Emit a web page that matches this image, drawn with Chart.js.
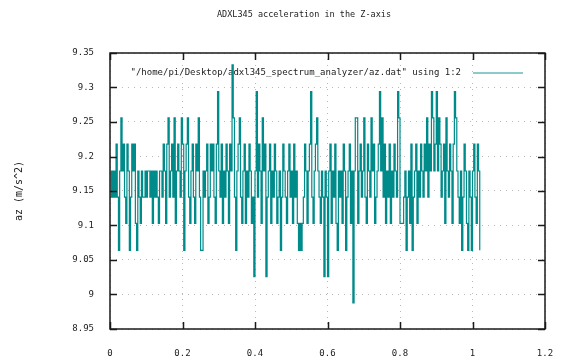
<!DOCTYPE html>
<html>
<head>
<meta charset="utf-8">
<script src="https://cdn.jsdelivr.net/npm/chart.js@4/dist/chart.umd.min.js"></script>
<style>
  html, body { margin: 0; padding: 0; background: #fff; }
  canvas { display: block; }
</style>
</head>
<body>
<canvas id="chart" width="562" height="357"></canvas>
<script>
// Z-axis acceleration samples from az.dat (m/s^2), one row of ten per line
const az = [
  9.141, 9.179, 9.141, 9.179, 9.141, 9.218, 9.141, 9.064, 9.179, 9.256,
  9.179, 9.218, 9.141, 9.103, 9.218, 9.179, 9.064, 9.141, 9.218, 9.179,
  9.218, 9.103, 9.064, 9.179, 9.141, 9.103, 9.179, 9.141, 9.141, 9.179,
  9.141, 9.179, 9.179, 9.141, 9.179, 9.103, 9.179, 9.141, 9.179, 9.141,
  9.103, 9.179, 9.179, 9.141, 9.218, 9.179, 9.103, 9.218, 9.256, 9.141,
  9.179, 9.218, 9.141, 9.256, 9.103, 9.179, 9.218, 9.179, 9.141, 9.256,
  9.218, 9.064, 9.179, 9.218, 9.256, 9.141, 9.103, 9.179, 9.218, 9.141,
  9.103, 9.218, 9.179, 9.256, 9.141, 9.064, 9.064, 9.179, 9.141, 9.179,
  9.218, 9.103, 9.141, 9.218, 9.179, 9.218, 9.141, 9.103, 9.218, 9.294,
  9.179, 9.141, 9.218, 9.103, 9.179, 9.141, 9.218, 9.179, 9.103, 9.218,
  9.179, 9.333, 9.256, 9.141, 9.064, 9.179, 9.218, 9.256, 9.141, 9.103,
  9.179, 9.218, 9.103, 9.179, 9.141, 9.218, 9.179, 9.103, 9.141, 9.026,
  9.179, 9.294, 9.141, 9.218, 9.179, 9.103, 9.256, 9.179, 9.218, 9.026,
  9.141, 9.179, 9.218, 9.103, 9.179, 9.141, 9.218, 9.179, 9.103, 9.141,
  9.179, 9.064, 9.141, 9.218, 9.179, 9.141, 9.103, 9.179, 9.218, 9.141,
  9.179, 9.103, 9.218, 9.141, 9.179, 9.103, 9.064, 9.103, 9.064, 9.103,
  9.141, 9.218, 9.179, 9.103, 9.179, 9.218, 9.294, 9.141, 9.103, 9.179,
  9.218, 9.256, 9.179, 9.141, 9.103, 9.179, 9.141, 9.026, 9.179, 9.141,
  9.026, 9.179, 9.218, 9.103, 9.179, 9.141, 9.218, 9.103, 9.064, 9.179,
  9.141, 9.179, 9.103, 9.218, 9.179, 9.064, 9.141, 9.179, 9.218, 9.103,
  9.179, 8.988, 9.179, 9.256, 9.256, 9.103, 9.179, 9.218, 9.141, 9.179,
  9.256, 9.141, 9.103, 9.218, 9.179, 9.141, 9.256, 9.179, 9.218, 9.103,
  9.141, 9.179, 9.218, 9.294, 9.179, 9.256, 9.141, 9.218, 9.103, 9.179,
  9.141, 9.218, 9.103, 9.179, 9.141, 9.218, 9.179, 9.141, 9.294, 9.256,
  9.103, 9.103, 9.103, 9.141, 9.179, 9.064, 9.141, 9.179, 9.103, 9.218,
  9.064, 9.141, 9.179, 9.218, 9.103, 9.179, 9.141, 9.218, 9.179, 9.141,
  9.218, 9.179, 9.256, 9.141, 9.218, 9.179, 9.294, 9.256, 9.179, 9.218,
  9.294, 9.179, 9.256, 9.218, 9.141, 9.179, 9.218, 9.103, 9.256, 9.179,
  9.141, 9.218, 9.179, 9.103, 9.218, 9.294, 9.256, 9.179, 9.141, 9.103,
  9.179, 9.064, 9.141, 9.218, 9.179, 9.103, 9.064, 9.179, 9.141, 9.064,
  9.179, 9.218, 9.141, 9.103, 9.218, 9.179, 9.064
];

// samples were logged at a fixed rate; column 1 of the file is time in seconds
const sampleRate = 300;
const time = az.map((_, i) => i / sampleRate);

const xTicks = [0, 0.2, 0.4, 0.6, 0.8, 1, 1.2];
const yTicks = [8.95, 9, 9.05, 9.1, 9.15, 9.2, 9.25, 9.3, 9.35];

const titleText = 'ADXL345 acceleration in the Z-axis';
const yLabel = 'az (m/s^2)';
const seriesLabel = '"/home/pi/Desktop/adxl345_spectrum_analyzer/az.dat" using 1:2';

const MONO = '"DejaVu Sans Mono", "Liberation Mono", monospace';
const INK = '#222';
const LINE = 'rgb(0,139,139)';

const fmt = v => String(Number(v.toFixed(2)));

// Plot frame, inward major ticks on all four sides, title and key
const gnuplotFrame = {
  id: 'gnuplotFrame',
  beforeDatasetsDraw(chart) {
    const { ctx } = chart;
    ctx.save();
    ctx.fillStyle = INK;
    ctx.font = '8.5px ' + MONO;
    ctx.textAlign = 'center';
    ctx.textBaseline = 'middle';
    ctx.fillText(titleText, 304, 15);

    ctx.font = '9px ' + MONO;
    ctx.textAlign = 'right';
    ctx.fillText(seriesLabel, 461, 73);
    ctx.strokeStyle = 'rgba(0,139,139,0.6)';
    ctx.lineWidth = 1.5;
    ctx.beginPath();
    ctx.moveTo(473, 73);
    ctx.lineTo(523, 73);
    ctx.stroke();
    ctx.restore();
  },
  afterDatasetsDraw(chart) {
    const { ctx, chartArea: a, scales: { x, y } } = chart;
    const len = 7;
    ctx.save();
    ctx.strokeStyle = '#1a1a1a';
    ctx.lineWidth = 1.5;
    ctx.beginPath();
    x.ticks.forEach(t => {
      const px = Math.round(x.getPixelForValue(t.value)) + 0.5;
      ctx.moveTo(px, a.bottom); ctx.lineTo(px, a.bottom - len);
      ctx.moveTo(px, a.top); ctx.lineTo(px, a.top + len);
    });
    y.ticks.forEach(t => {
      const py = Math.round(y.getPixelForValue(t.value)) + 0.5;
      ctx.moveTo(a.left, py); ctx.lineTo(a.left + len, py);
      ctx.moveTo(a.right, py); ctx.lineTo(a.right - len, py);
    });
    ctx.stroke();
    ctx.strokeRect(a.left, a.top, a.right - a.left, a.bottom - a.top);
    ctx.restore();
  }
};

new Chart(document.getElementById('chart'), {
  type: 'line',
  data: {
    datasets: [{
      label: seriesLabel,
      data: az.map((v, i) => ({ x: time[i], y: v })),
      borderColor: LINE,
      borderWidth: 1.2,
      pointRadius: 0,
      stepped: true,
      fill: false
    }]
  },
  options: {
    responsive: false,
    animation: false,
    events: [],
    layout: { padding: { top: 53, right: 17, left: 0, bottom: 0 } },
    plugins: { legend: { display: false }, title: { display: false }, tooltip: { enabled: false } },
    scales: {
      x: {
        type: 'linear',
        min: 0, max: 1.2,
        afterBuildTicks: s => { s.ticks = xTicks.map(v => ({ value: v })); },
        afterFit: s => { s.height = 28; s.paddingLeft = 0; s.paddingRight = 0; },
        ticks: { callback: v => fmt(v), color: INK, font: { family: MONO, size: 9 }, padding: 19, maxRotation: 0 },
        grid: { color: '#b8b8b8', lineWidth: 1, drawTicks: false },
        border: { display: false, dash: [1, 5] }
      },
      y: {
        type: 'linear',
        min: 8.95, max: 9.35,
        afterBuildTicks: s => { s.ticks = yTicks.map(v => ({ value: v })); },
        afterFit: s => { s.width = 110; },
        ticks: { callback: v => fmt(v), color: INK, font: { family: MONO, size: 9 }, padding: 16 },
        grid: { color: '#b8b8b8', lineWidth: 1, drawTicks: false },
        border: { display: false, dash: [1, 5] },
        title: { display: true, text: yLabel, color: INK, font: { family: MONO, size: 10 }, padding: { top: 13, bottom: 0 } }
      }
    }
  },
  plugins: [gnuplotFrame]
});
</script>
</body>
</html>
